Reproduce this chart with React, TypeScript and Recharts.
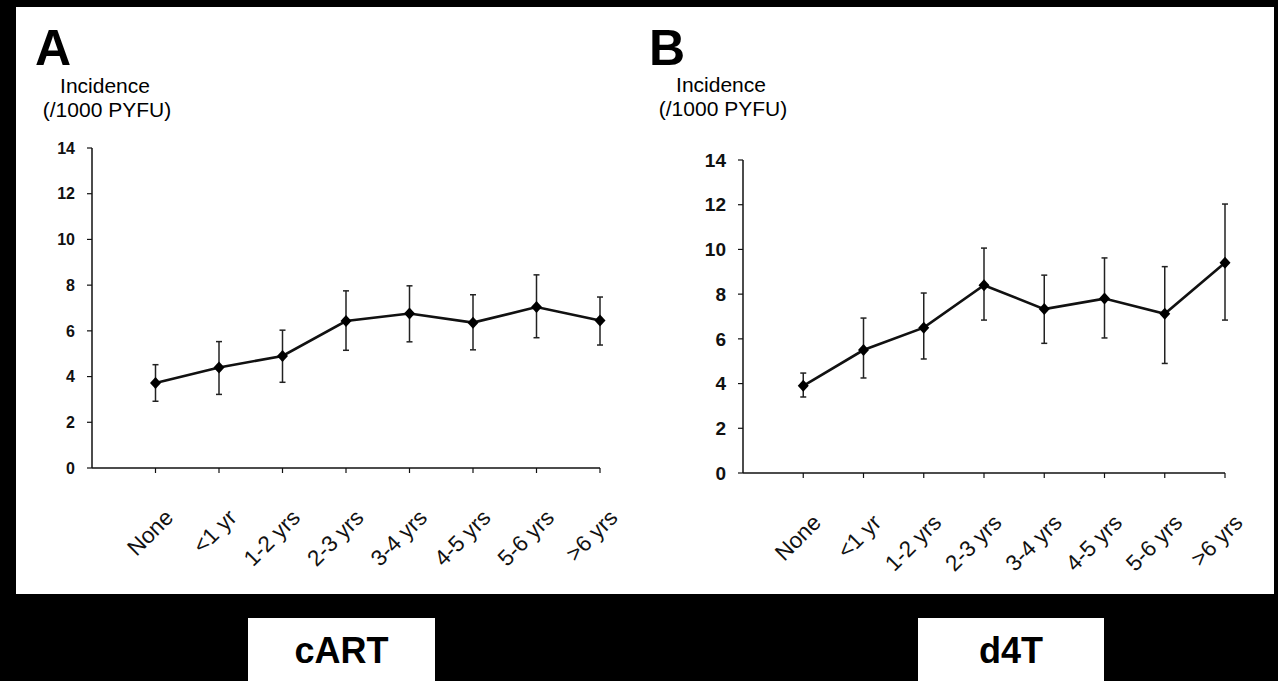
import { LineChart, Line, XAxis, YAxis, ErrorBar } from 'recharts';

const categories = ['None', '<1 yr', '1-2 yrs', '2-3 yrs', '3-4 yrs', '4-5 yrs', '5-6 yrs', '>6 yrs'];
const yTicks = [0, 2, 4, 6, 8, 10, 12, 14];

// panel A: cART
const cartValues = [3.72, 4.4, 4.9, 6.43, 6.76, 6.36, 7.04, 6.45];
const cartLow = [2.92, 3.22, 3.75, 5.15, 5.52, 5.17, 5.7, 5.38];
const cartHigh = [4.52, 5.53, 6.03, 7.75, 7.97, 7.58, 8.45, 7.48];

// panel B: d4T
const d4tValues = [3.9, 5.5, 6.5, 8.4, 7.33, 7.8, 7.12, 9.4];
const d4tLow = [3.4, 4.25, 5.1, 6.84, 5.8, 6.04, 4.9, 6.84];
const d4tHigh = [4.47, 6.93, 8.05, 10.06, 8.85, 9.62, 9.23, 12.03];

const FONT = "'Liberation Sans', Arial, Helvetica, sans-serif";

const buildRows = (values: number[], low: number[], high: number[]) =>
    categories.map((name, i) => ({
        pos: i + 1,
        name,
        value: values[i],
        err: [values[i] - low[i], high[i] - values[i]],
    }));

const Diamond = (props: any) => {
    const { cx, cy } = props;
    if (cx == null || cy == null) return null;
    return <path d={`M${cx},${cy - 6} L${cx + 5.5},${cy} L${cx},${cy + 6} L${cx - 5.5},${cy} Z`} fill="#000" />;
};

const XTick = (props: any) => {
    const { x, y, payload } = props;
    const label = categories[payload.value - 1];
    if (!label) return null;
    return (
        <g transform={`translate(${x + 19},${y + 44})`}>
            <text textAnchor="end" transform="rotate(-45)" fontSize={22.5} fontFamily={FONT} fill="#111">
                {label}
            </text>
        </g>
    );
};

interface PanelProps {
    rows: ReturnType<typeof buildRows>;
    left: number;
    width: number;
    margin: { top: number; right: number; bottom: number; left: number };
    yFont: number;
}

function Panel({ rows, left, width, margin, yFont }: PanelProps) {
    return (
        <div style={{ position: 'absolute', left, top: 0 }}>
            <LineChart width={width} height={600} data={rows} margin={margin}>
                <XAxis
                    dataKey="pos"
                    type="number"
                    domain={[0, 8]}
                    ticks={categories.map((_, i) => i + 1)}
                    height={60}
                    tickSize={5}
                    axisLine={{ stroke: '#111', strokeWidth: 1.5 }}
                    tickLine={{ stroke: '#111', strokeWidth: 1.2 }}
                    tick={<XTick />}
                    interval={0}
                />
                <YAxis
                    domain={[0, 14]}
                    ticks={yTicks}
                    width={40}
                    tickSize={5}
                    tickMargin={12}
                    axisLine={{ stroke: '#111', strokeWidth: 1.5 }}
                    tickLine={{ stroke: '#111', strokeWidth: 1.2 }}
                    tick={{ fill: '#111', fontSize: yFont, fontWeight: 700, fontFamily: FONT }}
                    interval={0}
                />
                <Line
                    dataKey="value"
                    stroke="#111"
                    strokeWidth={2.6}
                    dot={<Diamond />}
                    activeDot={false}
                    isAnimationActive={false}
                >
                    <ErrorBar dataKey="err" direction="y" width={3} strokeWidth={1.5} stroke="#222" isAnimationActive={false} />
                </Line>
            </LineChart>
        </div>
    );
}

export default function App() {
    const cartRows = buildRows(cartValues, cartLow, cartHigh);
    const d4tRows = buildRows(d4tValues, d4tLow, d4tHigh);

    return (
        <div style={{ position: 'absolute', left: 0, top: 0, width: 1278, height: 681, background: '#000', overflow: 'hidden' }}>
            <div style={{ position: 'absolute', left: 16, top: 7, width: 1258, height: 587, background: '#fff' }} />

            <Panel rows={cartRows} left={0} width={640} margin={{ top: 148, right: 40, bottom: 72, left: 52 }} yFont={16} />
            <Panel rows={d4tRows} left={640} width={638} margin={{ top: 160, right: 53, bottom: 67, left: 63 }} yFont={19} />

            <svg width={1278} height={681} style={{ position: 'absolute', left: 0, top: 0, pointerEvents: 'none' }}>
                <g fontFamily={FONT} fill="#000">
                    <text x={35} y={65} fontSize={50} fontWeight={700}>A</text>
                    <text x={105} y={93} fontSize={21} textAnchor="middle">Incidence</text>
                    <text x={107} y={117} fontSize={21} textAnchor="middle">(/1000 PYFU)</text>

                    <text x={649} y={65} fontSize={50} fontWeight={700}>B</text>
                    <text x={721} y={92} fontSize={21} textAnchor="middle">Incidence</text>
                    <text x={723} y={116} fontSize={21} textAnchor="middle">(/1000 PYFU)</text>
                </g>
                <rect x={248} y={618} width={187} height={70} fill="#fff" />
                <rect x={918} y={618} width={186} height={70} fill="#fff" />
                <text x={341.5} y={663} fontSize={36} fontWeight={700} fontFamily={FONT} textAnchor="middle" fill="#000">cART</text>
                <text x={1011} y={663} fontSize={36} fontWeight={700} fontFamily={FONT} textAnchor="middle" fill="#000">d4T</text>
            </svg>
        </div>
    );
}
